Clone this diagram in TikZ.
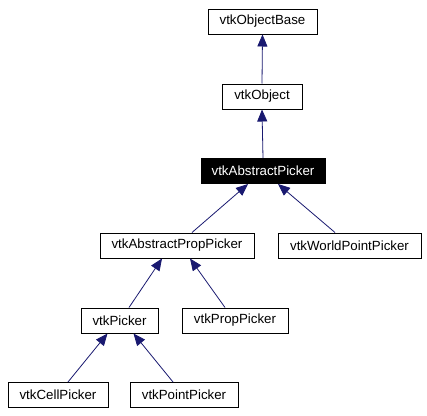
\documentclass[tikz,border=0pt]{standalone}
\usepackage{fontspec}
\setmainfont{Liberation Sans}
\usetikzlibrary{arrows.meta}
\definecolor{edgeblue}{HTML}{191970}
\tikzset{
  cls/.style={draw=black, line width=1pt, fill=white, inner sep=0pt, minimum height=25pt, font=\fontsize{13.3}{15}\selectfont},
  cur/.style={cls, fill=black, text=white},
  edge/.style={draw=edgeblue, line width=0.8pt, {Triangle[length=12pt,width=10pt]}-}
}
\begin{document}
\begin{tikzpicture}[x=1pt,y=-1pt]
\useasboundingbox[fill=white] (0,0) rectangle (427,415);
\node[cls, minimum width=109pt] (ob) at (262.5,21.5) {vtkObjectBase};
\node[cls, minimum width=80pt] (o) at (262,96.5) {vtkObject};
\node[cur, minimum width=124pt] (ap) at (263,171) {vtkAbstractPicker};
\node[cls, minimum width=154pt] (app) at (177,245.5) {vtkAbstractPropPicker};
\node[cls, minimum width=143pt] (wpp) at (349.5,245.5) {vtkWorldPointPicker};
\node[cls, minimum width=77pt] (pk) at (119.5,320.5) {vtkPicker};
\node[cls, minimum width=106pt] (pp) at (235,320.5) {vtkPropPicker};
\node[cls, minimum width=100pt] (cp) at (58,395) {vtkCellPicker};
\node[cls, minimum width=108pt] (ptp) at (184,395) {vtkPointPicker};

\draw[edge] (ob.south) -- (o.north);
\draw[edge] (o.south) -- (ap.north);
\draw[edge] ([xshift=-15pt]ap.south) -- ([xshift=15pt]app.north);
\draw[edge] ([xshift=15pt]ap.south) -- ([xshift=-14.5pt]wpp.north);
\draw[edge] ([xshift=-15pt]app.south) -- ([xshift=9.5pt]pk.north);
\draw[edge] ([xshift=13pt]app.south) -- ([xshift=-10pt]pp.north);
\draw[edge] ([xshift=-12pt]pk.south) -- ([xshift=10pt]cp.north);
\draw[edge] ([xshift=14pt]pk.south) -- ([xshift=-11pt]ptp.north);
\end{tikzpicture}
\end{document}
